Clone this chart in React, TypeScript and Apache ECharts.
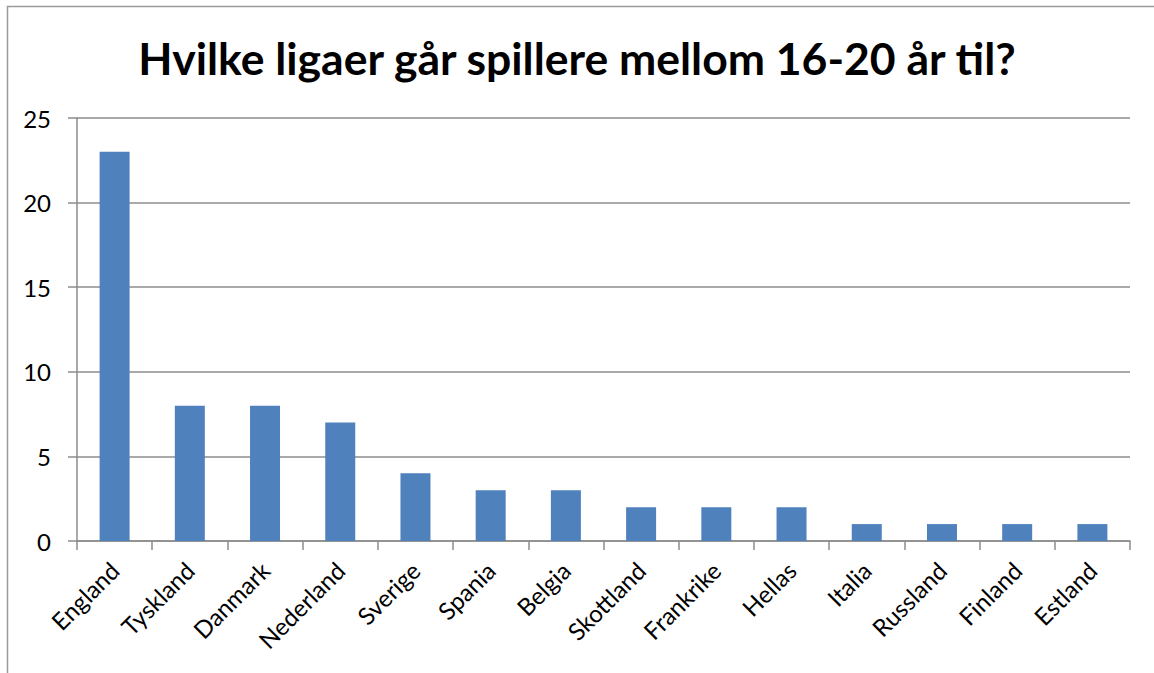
import React, { useEffect, useRef } from "react";
import * as echarts from "echarts";

const categories = [
  "England", "Tyskland", "Danmark", "Nederland", "Sverige", "Spania", "Belgia",
  "Skottland", "Frankrike", "Hellas", "Italia", "Russland", "Finland", "Estland",
];
const values = [23, 8, 8, 7, 4, 3, 3, 2, 2, 2, 1, 1, 1, 1];
const titleText = "Hvilke ligaer går spillere mellom 16-20 år til?";

export default function App() {
  const ref = useRef<HTMLDivElement>(null);
  useEffect(() => {
    if (!ref.current) return;
    const chart = echarts.init(ref.current, undefined, { renderer: "svg" });
    const font = "Lato";
    chart.setOption({
      animation: false,
      backgroundColor: "#ffffff",
      title: {
        text: titleText,
        left: "center",
        top: 30,
        textStyle: { fontFamily: font, fontWeight: "bold", fontSize: 44.5, color: "#000" },
      },
      graphic: [
        {
          type: "polyline",
          shape: { points: [[7.5, 700], [7.5, 6.5], [1160, 6.5]] },
          style: { stroke: "#9a9a9a", lineWidth: 1.5, fill: "none" },
          silent: true,
        },
      ],
      grid: { left: 77, right: 24, top: 118, bottom: 132, containLabel: false },
      xAxis: {
        type: "category",
        data: categories,
        axisLine: { lineStyle: { color: "#8c8c8c", width: 1.5 } },
        axisTick: { show: true, length: 9, alignWithLabel: false, lineStyle: { color: "#8c8c8c", width: 1.5 } },
        axisLabel: {
          rotate: 45,
          interval: 0,
          margin: 25,
          fontFamily: font,
          fontSize: 24,
          color: "#000",
        },
      },
      yAxis: {
        type: "value",
        min: 0,
        max: 25,
        interval: 5,
        axisLine: { show: true, lineStyle: { color: "#8c8c8c", width: 1.5 } },
        axisTick: { show: true, length: 9, lineStyle: { color: "#8c8c8c", width: 1.5 } },
        splitLine: { lineStyle: { color: "#8c8c8c", width: 1.5 } },
        axisLabel: { margin: 26, fontFamily: font, fontSize: 24, color: "#000" },
      },
      series: [
        {
          type: "bar",
          data: values,
          barWidth: 30,
          itemStyle: { color: "#4F81BD" },
        },
      ],
    });
    return () => chart.dispose();
  }, []);
  return (
    <div
      ref={ref}
      style={{ position: "fixed", left: 0, top: 0, width: 1154, height: 673 }}
    />
  );
}
